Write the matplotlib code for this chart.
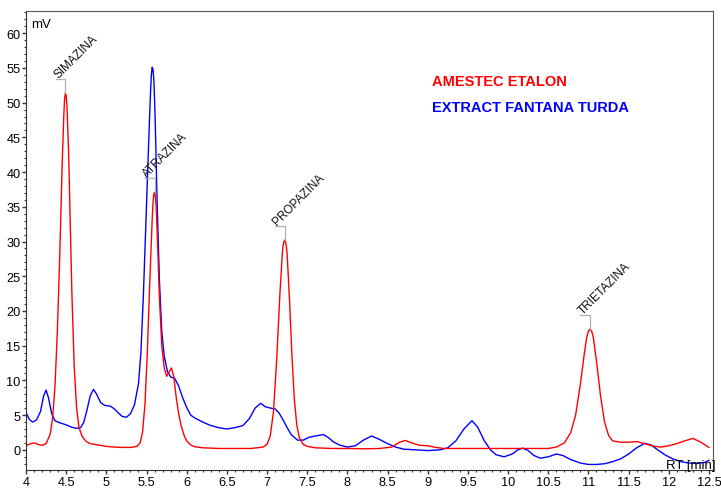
import matplotlib
matplotlib.use("Agg")
import matplotlib.pyplot as plt
from matplotlib.ticker import MultipleLocator

plt.rcParams['font.family'] = ['Liberation Sans', 'DejaVu Sans']

# Retention time [min] and detector signal [mV]
etalon_rt = [4.00, 4.05, 4.10, 4.15, 4.20, 4.25, 4.30, 4.33, 4.36, 4.39, 4.42, 4.45, 4.47, 4.48,
             4.49, 4.50, 4.51, 4.53, 4.55, 4.57, 4.60, 4.63, 4.66, 4.70, 4.75, 4.80, 4.90, 5.00,
             5.10, 5.20, 5.30, 5.38, 5.42, 5.45, 5.48, 5.51, 5.54, 5.57, 5.58, 5.59, 5.60, 5.61,
             5.62, 5.64, 5.66, 5.69, 5.72, 5.75, 5.78, 5.81, 5.84, 5.87, 5.90, 5.93, 5.97, 6.00,
             6.05, 6.10, 6.20, 6.40, 6.60, 6.80, 6.95, 7.00, 7.04, 7.08, 7.12, 7.16, 7.19, 7.20,
             7.21, 7.22, 7.23, 7.24, 7.25, 7.28, 7.31, 7.34, 7.37, 7.40, 7.45, 7.50, 7.60, 7.80,
             8.00, 8.20, 8.40, 8.55, 8.65, 8.72, 8.80, 8.90, 9.00, 9.10, 9.20, 9.50, 10.00, 10.50,
             10.60, 10.70, 10.78, 10.84, 10.90, 10.95, 10.98, 11.00, 11.02, 11.04, 11.06, 11.10,
             11.15, 11.20, 11.25, 11.30, 11.40, 11.50, 11.60, 11.70, 11.80, 11.90, 12.00, 12.10,
             12.20, 12.30, 12.40, 12.50]
etalon_mv = [0.6, 0.85, 1.0, 0.8, 0.65, 0.9, 2.2, 4.5, 9.0, 17.0, 28.0, 41.0, 48.0, 50.5,
             51.4, 51.0, 49.5, 43.0, 33.0, 23.0, 12.0, 6.0, 3.2, 1.9, 1.2, 0.9, 0.7, 0.5,
             0.4, 0.35, 0.35, 0.5, 1.0, 2.5, 6.5, 14.0, 24.0, 33.0, 35.5, 36.8, 37.1, 36.5,
             35.0, 29.0, 22.0, 15.0, 11.8, 10.6, 11.2, 11.8, 10.5, 7.5, 5.2, 3.5, 2.0, 1.3,
             0.7, 0.45, 0.3, 0.2, 0.2, 0.2, 0.4, 0.8, 2.0, 5.5, 13.0, 22.5, 28.3, 29.4,
             30.0, 30.2, 30.0, 29.3, 28.2, 21.5, 13.5, 7.2, 3.6, 1.8, 0.8, 0.5, 0.3, 0.2,
             0.2, 0.15, 0.2, 0.4, 1.1, 1.35, 1.0, 0.65, 0.6, 0.35, 0.2, 0.2, 0.2, 0.2,
             0.4, 1.0, 2.5, 5.0, 9.5, 14.0, 16.3, 17.1, 17.4, 17.1, 16.2, 12.8,
             7.8, 4.0, 2.1, 1.3, 1.1, 1.1, 1.2, 0.9, 0.55, 0.4, 0.6, 0.9,
             1.3, 1.65, 1.1, 0.35]

extract_rt = [4.00, 4.04, 4.08, 4.13, 4.18, 4.22, 4.25, 4.28, 4.32, 4.36, 4.42, 4.50, 4.56, 4.62,
              4.68, 4.72, 4.76, 4.80, 4.84, 4.88, 4.93, 4.98, 5.05, 5.10, 5.15, 5.20, 5.25, 5.30,
              5.35, 5.40, 5.43, 5.46, 5.49, 5.52, 5.54, 5.55, 5.56, 5.57, 5.58, 5.59, 5.60, 5.61,
              5.63, 5.66, 5.69, 5.72, 5.76, 5.80, 5.85, 5.90, 5.95, 6.00, 6.05, 6.10, 6.20, 6.30,
              6.40, 6.50, 6.60, 6.70, 6.78, 6.85, 6.92, 6.98, 7.05, 7.10, 7.15, 7.20, 7.25, 7.30,
              7.38, 7.45, 7.52, 7.60, 7.70, 7.76, 7.82, 7.90, 8.00, 8.10, 8.20, 8.30, 8.40, 8.50,
              8.60, 8.70, 8.85, 9.00, 9.15, 9.25, 9.35, 9.45, 9.55, 9.62, 9.70, 9.78, 9.85, 9.95,
              10.05, 10.12, 10.18, 10.25, 10.32, 10.40, 10.50, 10.60, 10.68, 10.78, 10.90, 11.00,
              11.10, 11.20, 11.30, 11.40, 11.50, 11.60, 11.70, 11.78, 11.85, 11.95, 12.05, 12.15,
              12.25, 12.35, 12.45, 12.50]
extract_mv = [5.4, 4.4, 4.0, 4.3, 5.5, 7.8, 8.6, 7.5, 5.2, 4.2, 3.9, 3.6, 3.3, 3.1,
              3.2, 4.0, 5.8, 7.8, 8.7, 8.0, 6.8, 6.4, 6.3, 5.9, 5.3, 4.8, 4.7, 5.2,
              6.5, 9.5, 14.0, 22.0, 32.0, 42.0, 48.5, 51.5, 54.0, 55.1, 54.8, 53.5, 50.5, 46.5,
              36.5, 24.5, 17.0, 13.5, 11.3, 10.5, 10.3, 9.2, 7.5, 6.1, 5.0, 4.6, 4.0, 3.5,
              3.2, 3.0, 3.2, 3.5, 4.5, 6.0, 6.7, 6.2, 6.0, 5.9, 5.3, 4.3, 3.2, 2.2,
              1.4, 1.4, 1.8, 2.0, 2.2, 1.8, 1.2, 0.7, 0.4, 0.6, 1.4, 2.0, 1.5, 0.9,
              0.4, 0.1, 0.0, -0.1, 0.0, 0.3, 1.3, 3.0, 4.2, 3.3, 1.4, 0.0, -0.7, -1.0,
              -0.6, 0.0, 0.25, -0.1, -0.8, -1.2, -1.0, -0.6, -0.8, -1.4, -1.9, -2.1,
              -2.1, -2.0, -1.7, -1.3, -0.6, 0.3, 0.95, 0.7, 0.1, -0.7, -1.3, -1.7,
              -1.9, -1.95, -1.8, -1.5]

# Identified compounds: name, retention time, peak apex
peak_names = ["SIMAZINA", "ATRAZINA", "PROPAZINA", "TRIETAZINA"]
peak_rt = [4.49, 5.60, 7.22, 11.02]
peak_mv = [51.4, 37.1, 30.2, 17.4]

series_names = ["AMESTEC ETALON", "EXTRACT FANTANA TURDA"]

W, H = 721, 489
fig = plt.figure(figsize=(W / 100, H / 100), dpi=100)
ax = fig.add_axes([26 / W, 1 - 471 / H, (713 - 26) / W, (471 - 12) / H])

ax.plot(extract_rt, extract_mv, color="#0000ff", lw=1.0)
ax.plot(etalon_rt, etalon_mv, color="#ff0000", lw=1.0)

ax.set_xlim(4.0, 12.55)
ax.set_ylim(-2.9, 63.2)

ax.xaxis.set_major_locator(MultipleLocator(0.5))
ax.xaxis.set_minor_locator(MultipleLocator(0.1))
ax.yaxis.set_minor_locator(MultipleLocator(1))
ax.xaxis.set_major_formatter(plt.FuncFormatter(lambda v, p: f"{v:g}"))
ax.set_yticks(range(0, 61, 5))
ax.tick_params(axis="both", which="major", direction="out", length=3, width=1,
               labelsize=9.2, color="#333333", pad=1)
ax.tick_params(axis="both", which="minor", direction="out", length=1.6, width=0.8,
               color="#333333")

for side in ("left", "bottom"):
    ax.spines[side].set_color("#333333")
for side in ("top", "right"):
    ax.spines[side].set_color("#555555")

# Peak labels with bracket leaders
lead_dx = 0.12
lead_dy = 2.0
for name, rt, mv in zip(peak_names, peak_rt, peak_mv):
    top = mv + lead_dy
    ax.plot([rt - lead_dx, rt, rt], [top, top, mv], color="#b0b0b0", lw=0.9)
    ax.text(rt - 0.09, top + 0.2, name, rotation=45, rotation_mode="anchor",
            ha="left", va="baseline", fontsize=8.5, color="#111111")

ax.text(0.008, 0.985, "mV", transform=ax.transAxes, ha="left", va="top", fontsize=9.5)
fig.text(716 / W, 1 - 469 / H, "RT [min]", ha="right", va="baseline", fontsize=9.5)

fig.text(432 / W, 1 - 82 / H, series_names[0], color="#ff0000",
         fontsize=10.5, fontweight="bold", ha="left", va="center")
fig.text(432 / W, 1 - 108 / H, series_names[1], color="#0000ff",
         fontsize=10.5, fontweight="bold", ha="left", va="center")

fig.savefig("out.png", dpi=100)
